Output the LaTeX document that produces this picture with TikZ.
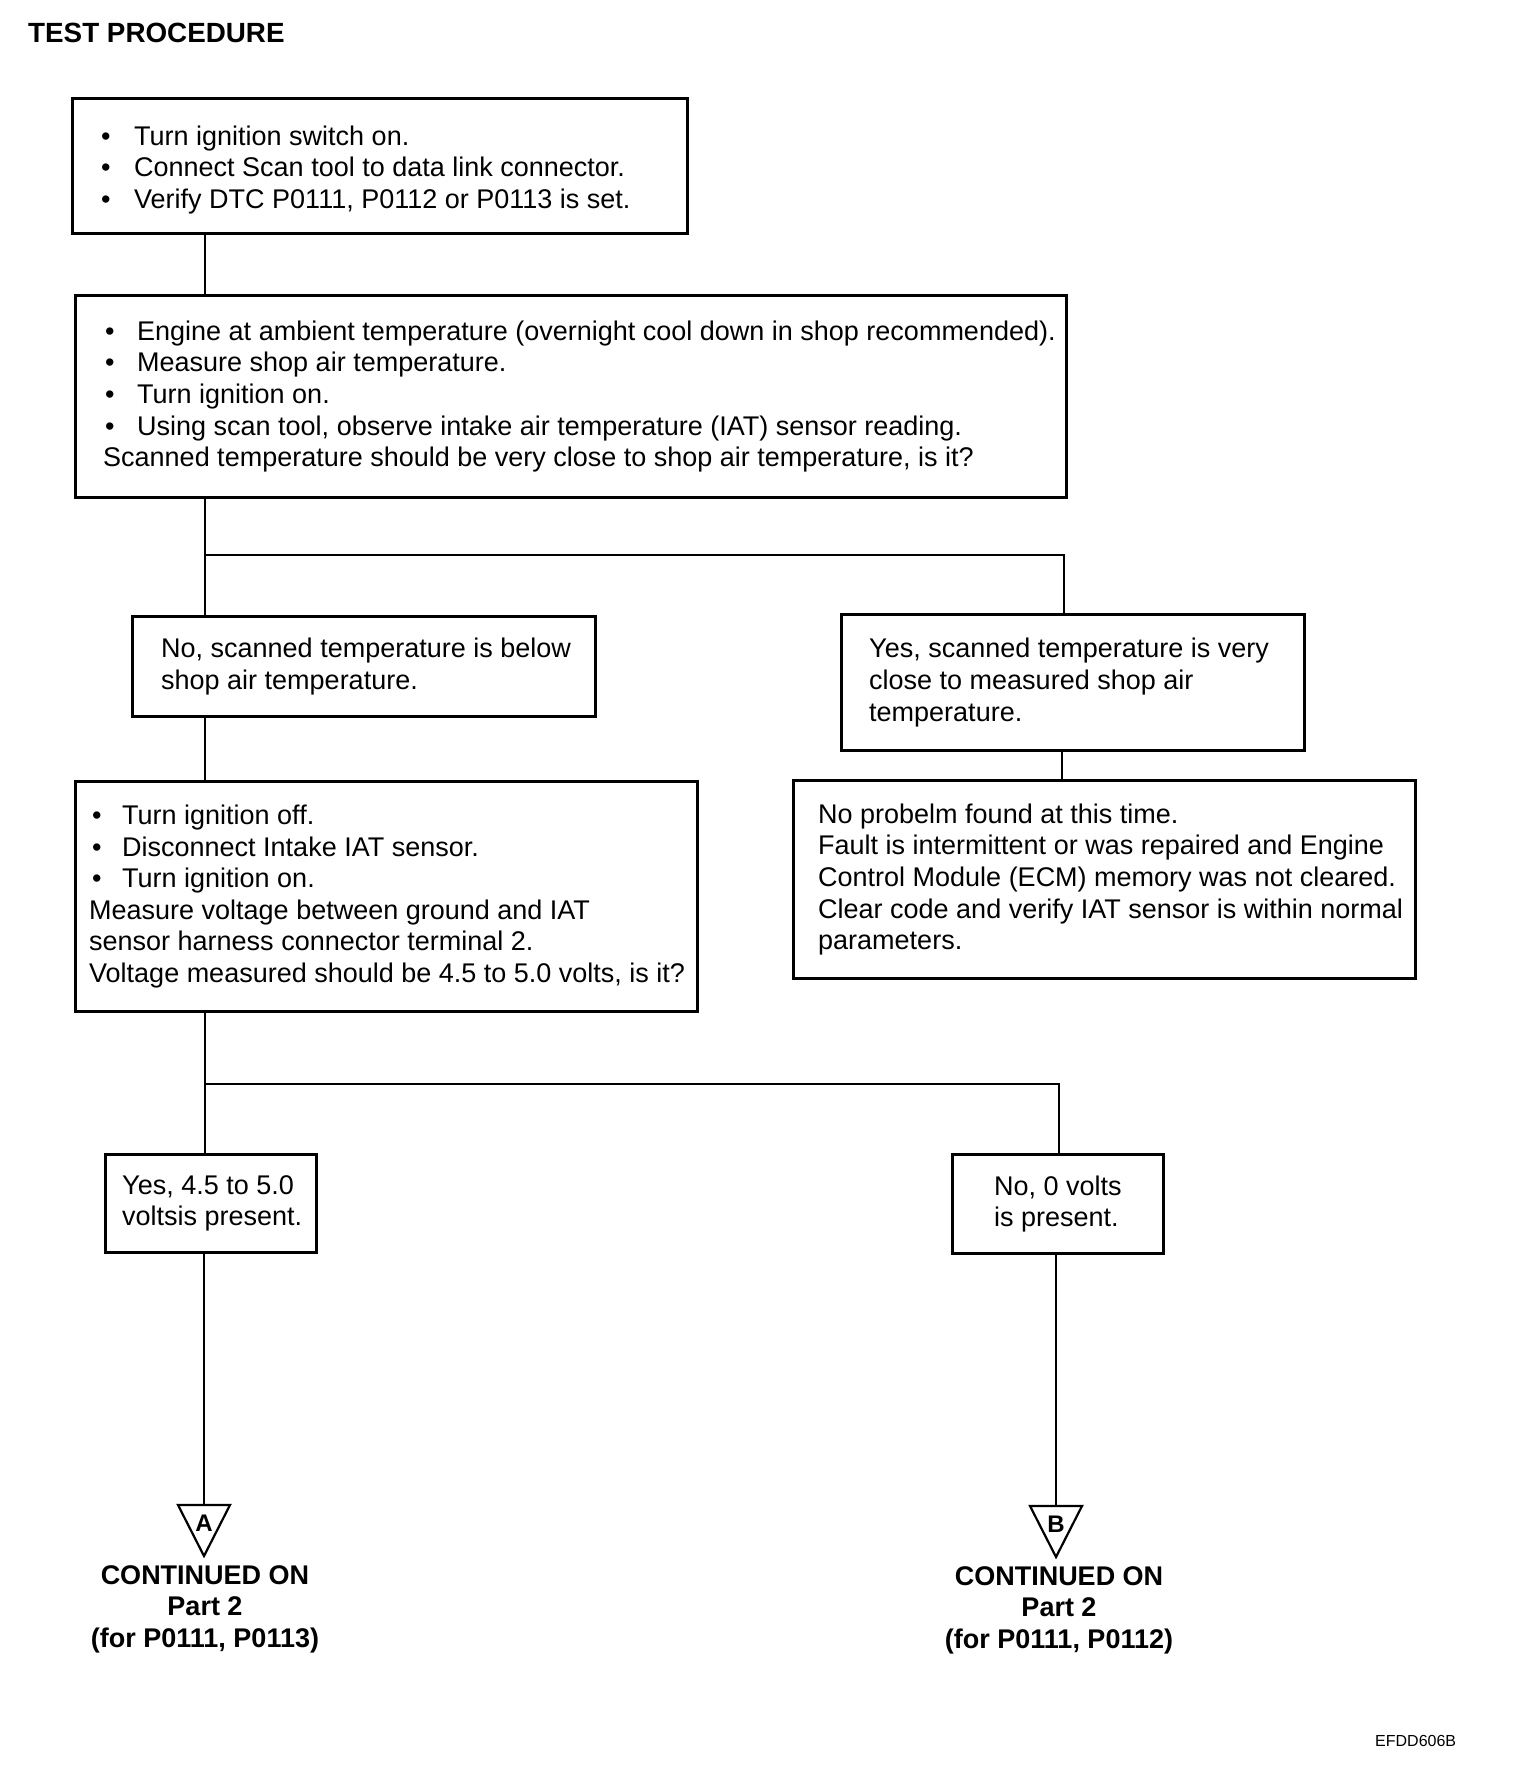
\documentclass[tikz,border=0pt]{standalone}
\usepackage{fontspec}
\setmainfont{Liberation Sans}
\usetikzlibrary{calc}
\newcommand{\bl}[1]{\makebox[#1pt][l]{\textbullet}}
\begin{document}
\begin{tikzpicture}[x=1pt,y=-1pt,
  box/.style={draw, line width=3pt, rectangle, inner sep=0pt, anchor=north west},
  txt/.style={inner sep=0pt, anchor=west, align=left, font=\fontsize{27}{31.6}\selectfont},
  conn/.style={line width=2.8pt},
  cont/.style={inner sep=0pt, align=center, font=\bfseries\fontsize{27}{31.8}\selectfont},
  tri/.style={line width=2.2pt, line join=miter}
]
\useasboundingbox (0,0) rectangle (1520,1774);
\fill[white] (0,0) rectangle (1520,1774);

\node[inner sep=0pt, anchor=west, font=\bfseries\fontsize{27.8}{32}\selectfont] (title) at (28,33) {TEST PROCEDURE};

% boxes
\node[box, minimum width=615pt, minimum height=135pt] (b1) at (71,97) {};
\node[txt] (t1) at ($(b1.west)+(30,4)$) {\bl{33}Turn ignition switch on.\\ \bl{33}Connect Scan tool to data link connector.\\ \bl{33}Verify DTC P0111, P0112 or P0113 is set.};

\node[box, minimum width=991pt, minimum height=202pt] (b2) at (74,294) {};
\node[txt] (t2) at ($(b2.west)+(29,0)$) {\hspace{2pt}\bl{32}Engine at ambient temperature (overnight cool down in shop recommended).\\ \hspace{2pt}\bl{32}Measure shop air temperature.\\ \hspace{2pt}\bl{32}Turn ignition on.\\ \hspace{2pt}\bl{32}Using scan tool, observe intake air temperature (IAT) sensor reading.\\ Scanned temperature should be very close to shop air temperature, is it?};

\node[box, minimum width=463pt, minimum height=100pt] (no1) at (131,615) {};
\node[txt] (tno1) at ($(no1.west)+(30,0)$) {No, scanned temperature is below\\ shop air temperature.};

\node[box, minimum width=463pt, minimum height=136pt] (yes1) at (840,613) {};
\node[txt] (tyes1) at ($(yes1.west)+(29,0)$) {Yes, scanned temperature is very\\ close to measured shop air\\ temperature.};

\node[box, minimum width=622pt, minimum height=230pt] (b3) at (74,780) {};
\node[txt] (t3) at ($(b3.west)+(15,0)$) {\hspace{3pt}\bl{30}Turn ignition off.\\ \hspace{3pt}\bl{30}Disconnect Intake IAT sensor.\\ \hspace{3pt}\bl{30}Turn ignition on.\\ Measure voltage between ground and IAT\\ sensor harness connector terminal 2.\\ Voltage measured should be 4.5 to 5.0 volts, is it?};

\node[box, minimum width=622pt, minimum height=198pt] (b4) at (792,779) {};
\node[txt] (t4) at ($(b4.west)+(26,0)$) {No probelm found at this time.\\ Fault is intermittent or was repaired and Engine\\ Control Module (ECM) memory was not cleared.\\ Clear code and verify IAT sensor is within normal\\ parameters.};

\node[box, minimum width=211pt, minimum height=98pt] (ya) at (104,1153) {};
\node[txt] (tya) at ($(ya.west)+(18,0)$) {Yes, 4.5 to 5.0\\ voltsis present.};

\node[box, minimum width=211pt, minimum height=99pt] (nb) at (951,1153) {};
\node[txt] (tnb) at ($(nb.west)+(43,0)$) {No, 0 volts\\ is present.};

% connector columns
\coordinate (cl) at (205,0);
\coordinate (j1a) at (205,555);
\coordinate (j1b) at (1064,555);
\coordinate (cr) at (1062,0);
\coordinate (j2a) at (205,1084);
\coordinate (j2b) at (1059,1084);
\coordinate (ta) at (204,1505);
\coordinate (tb) at (1056,1506);

\draw[conn] (b1.south -| cl) -- (b2.north -| cl);
\draw[conn] (b2.south -| cl) -- (no1.north -| cl);
\draw[conn] (j1a) -- (j1b) -- (yes1.north -| j1b);
\draw[conn] (no1.south -| cl) -- (b3.north -| cl);
\draw[conn] (yes1.south -| cr) -- (b4.north -| cr);
\draw[conn] (b3.south -| cl) -- (ya.north -| cl);
\draw[conn] (j2a) -- (j2b) -- (nb.north -| j2b);
\draw[conn] (ya.south -| ta) -- (ta);
\draw[conn] (nb.south -| tb) -- (tb);

% continuation triangles
\draw[tri] ($(ta)+(-26,0)$) -- ($(ta)+(26,0)$) -- ($(ta)+(0,51)$) -- cycle;
\draw[tri] ($(tb)+(-26,0)$) -- ($(tb)+(26,0)$) -- ($(tb)+(0,51)$) -- cycle;
\node[inner sep=0pt, font=\bfseries\fontsize{24}{26}\selectfont] (la) at ($(ta)+(0,18)$) {A};
\node[inner sep=0pt, font=\bfseries\fontsize{24}{26}\selectfont] (lb) at ($(tb)+(0,18)$) {B};

\node[cont, anchor=north] (ca) at (205,1565) {CONTINUED ON\\ Part 2\\ (for P0111, P0113)};
\node[cont, anchor=north] (cb) at (1059,1566) {CONTINUED ON\\ Part 2\\ (for P0111, P0112)};

\node[inner sep=0pt, anchor=west, font=\fontsize{16}{18}\selectfont] (code) at (1375,1741) {EFDD606B};
\end{tikzpicture}
\end{document}
